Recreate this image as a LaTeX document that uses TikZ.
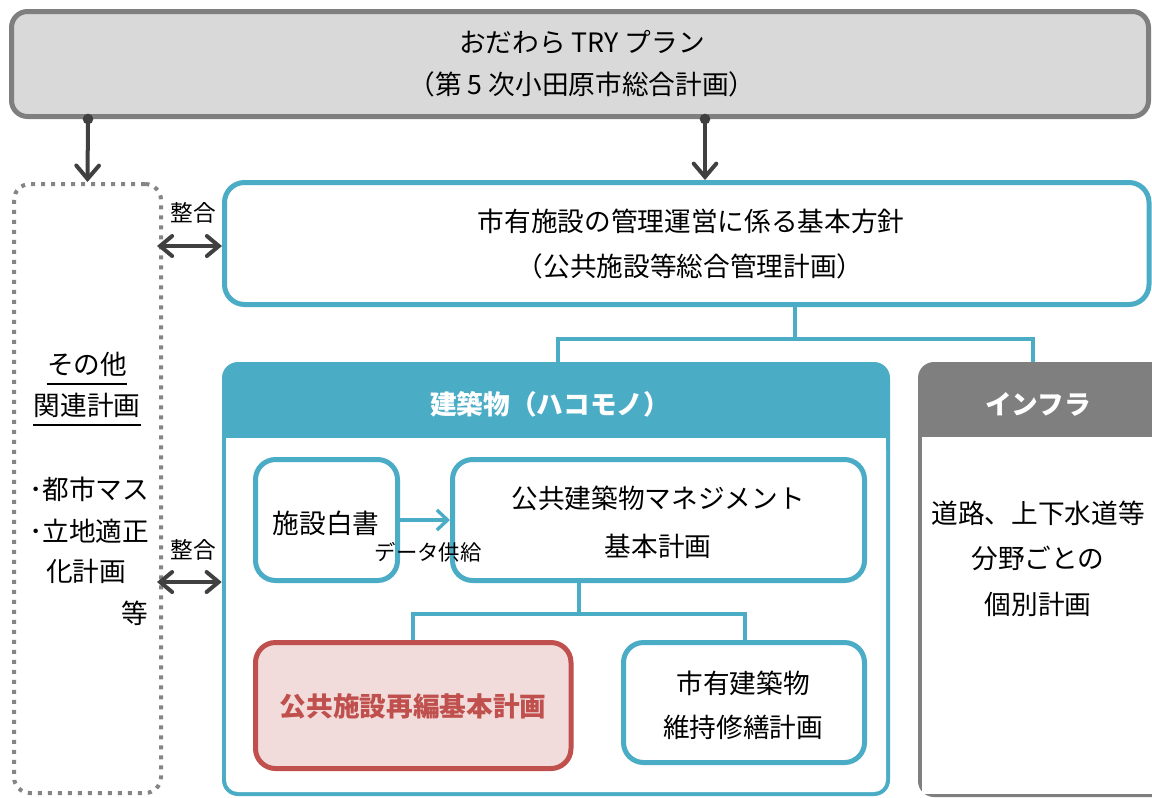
\documentclass[tikz,border=0pt]{standalone}
\usepackage{fontspec}
\setmainfont{Noto Sans CJK JP}
\usetikzlibrary{arrows.meta,fit,calc}
\definecolor{cblue}{HTML}{4BACC6}
\definecolor{cgray}{HTML}{7F7F7F}
\definecolor{clight}{HTML}{D9D9D9}
\definecolor{cdark}{HTML}{404040}
\definecolor{cred}{HTML}{C0504D}
\definecolor{cpink}{HTML}{F2DCDB}
\definecolor{cdot}{HTML}{858585}
\begin{document}
\begin{tikzpicture}[x=0.75pt,y=-0.75pt,
  txt/.style={font=\fontsize{20}{24}\selectfont, inner sep=0pt, text=black},
  smalltxt/.style={font=\fontsize{17}{20}\selectfont, inner sep=0pt, text=black},
  tinytxt/.style={font=\fontsize{16}{19}\selectfont, inner sep=0pt, text=black},
  headtxt/.style={font=\fontsize{20}{24}\selectfont\bfseries, inner sep=0pt, text=white},
  bluebox/.style={draw=cblue, line width=3.75pt, rounded corners=15pt, inner sep=0pt, fill=white},
  redbox/.style={draw=cred, line width=3.75pt, rounded corners=15pt, inner sep=0pt, fill=cpink},
  topbox/.style={draw=cgray, line width=3.75pt, rounded corners=12pt, inner sep=0pt, fill=clight},
  dotbox/.style={draw=cdot, line width=3pt, dash pattern=on 3pt off 4.5pt, rounded corners=12pt, inner sep=0pt},
  darr/.style={draw=cdark, line width=3pt, line cap=round, -{Straight Barb[length=10pt,width=17pt,line cap=round]}},
  ddarr/.style={draw=cdark, line width=3pt, line cap=round, {Straight Barb[length=9pt,width=15pt,line cap=round]}-{Straight Barb[length=9pt,width=15pt,line cap=round]}},
  barr/.style={draw=cblue, line width=2.5pt, -{Straight Barb[length=8pt,width=15pt]}},
  conn/.style={draw=cblue, line width=2.5pt},
  uline/.style={draw=black, line width=1.5pt}
]
\useasboundingbox (0,0) rectangle (1152,797);
\clip (0,0) rectangle (1152,797);

% helper coordinates
\coordinate (c88) at (88,0);
\coordinate (c705) at (705,0);
\coordinate (y246) at (0,246);
\coordinate (y582) at (0,582);
\coordinate (j1) at (795,339);
\coordinate (b1) at (558,0);
\coordinate (b2) at (1033,0);
\coordinate (j2) at (579,614);
\coordinate (b3) at (413,0);
\coordinate (b4) at (745,0);
\coordinate (u1) at (0,384);
\coordinate (u2) at (0,425);

% top box
\node[topbox, fit={(11.5,11.5)(1148.5,116.5)}] (top) {};
\node[txt] (t1) at (582,42) {おだわら TRY プラン};
\node[txt] (t2) at (582,84) {（第 5 次小田原市総合計画）};

% left dotted box
\node[dotbox, fit={(14,184)(161,793)}] (lbox) {};
\node[txt] (sonota) at (87,364) {その他};
\node[txt] (kanren) at (87,405) {関連計画};
\draw[uline] (sonota.west |- u1) -- (sonota.east |- u1);
\draw[uline] (kanren.west |- u2) -- (kanren.east |- u2);
\node[txt, anchor=west] (l1) at (29,489) {･都市マス};
\node[txt, anchor=west] (l2) at (29,531) {･立地適正};
\node[txt, anchor=west] (l3) at (46,571) {化計画};
\node[txt, anchor=east] (l4) at (148,613) {等};

% policy box
\node[bluebox, fit={(224.5,182.5)(1149,304.5)}] (policy) {};
\node[txt] (p1) at (691,221) {市有施設の管理運営に係る基本方針};
\node[txt] (p2) at (690,266) {（公共施設等総合管理計画）};

% building box
\node[fit={(222,362)(890,796)}, inner sep=0pt, fill=cblue, rounded corners=12pt] (bldg) {};
\fill[white, rounded corners=9pt] (226,438) rectangle (886,792);
\fill[white] (226,438) rectangle (886,600);
\node[headtxt] (bh) at (550,404) {建築物（ハコモノ）};

% infra box
\node[fit={(918,362)(1190,797)}, inner sep=0pt, fill=cgray, rounded corners=12pt] (infra) {};
\fill[white] (922,437) rectangle (1190,794);
\node[headtxt] (ih) at (1038,404) {インフラ};
\node[txt] (i1) at (1038,513) {道路、上下水道等};
\node[txt] (i2) at (1038,558) {分野ごとの};
\node[txt] (i3) at (1038,604) {個別計画};

% inner boxes
\node[bluebox, fit={(255.5,459.5)(397.5,580.5)}] (hakusho) {};
\node[txt] (h1) at (326,523) {施設白書};
\node[bluebox, fit={(452.5,459.5)(864.5,580.5)}] (mgmt) {};
\node[txt] (m1) at (658,498) {公共建築物マネジメント};
\node[txt] (m2) at (658,546) {基本計画};
\node[redbox, fit={(255.5,642.5)(571,768.5)}] (saihen) {};
\node[font=\fontsize{20}{24}\selectfont\bfseries, inner sep=0pt, text=cred] (r1) at (413,706) {公共施設再編基本計画};
\node[bluebox, fit={(623.5,642.5)(864.5,762.5)}] (shuzen) {};
\node[txt] (s1) at (743,683) {市有建築物};
\node[txt] (s2) at (743,727) {維持修繕計画};

% connectors
\fill[cdark] (top.south -| c88) circle (4pt);
\draw[darr] (top.south -| c88) -- (lbox.north);
\fill[cdark] (top.south -| c705) circle (4pt);
\draw[darr] (top.south -| c705) -- (policy.north -| c705);

\draw[ddarr] ([xshift=-4.5pt]lbox.east |- y246) -- (policy.west |- y246);
\node[smalltxt] (s_a) at (193,213) {整合};
\draw[ddarr] ([xshift=-4.5pt]lbox.east |- y582) -- (bldg.west |- y582);
\node[smalltxt] (s_b) at (193,550) {整合};

\draw[conn] (policy.south -| j1) -- (j1);
\draw[conn] (bldg.north -| b1) |- (j1) -| (infra.north -| b2);

\draw[barr] (hakusho.east |- 0,520) -- (mgmt.west |- 0,520);
\node[tinytxt] (data) at (428,552) {データ供給};

\draw[conn] (mgmt.south -| j2) -- (j2);
\draw[conn] (saihen.north -| b3) |- (j2) -| (shuzen.north -| b4);
\end{tikzpicture}
\end{document}
